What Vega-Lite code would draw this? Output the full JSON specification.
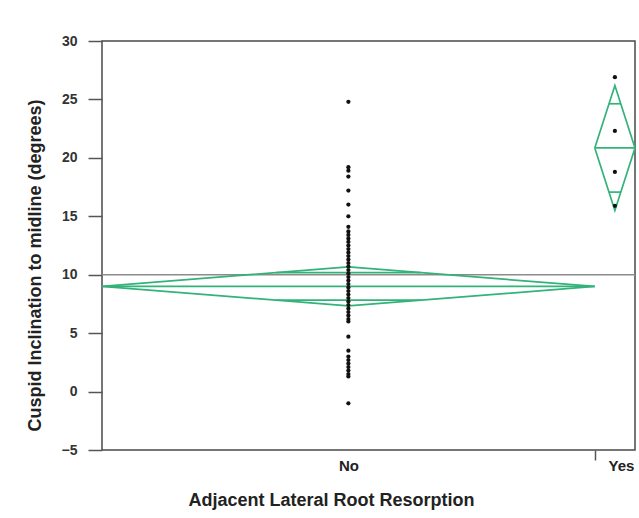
{
  "$schema": "https://vega.github.io/schema/vega-lite/v6.json",
  "width": 533,
  "height": 409,
  "autosize": {"type": "none"},
  "padding": {"left": 102, "top": 41, "right": 4, "bottom": 68},
  "background": "white",
  "config": {"view": {"stroke": "#4a4a4a", "strokeWidth": 1.5}, "font": "Liberation Sans"},
  "datasets": {
    "summary": [{"grand_mean": 10.0}],
    "diamonds": [
      {"group": "No", "segment": "No-diamond", "order": 1, "x": 0, "y": 9.0},
      {"group": "No", "segment": "No-diamond", "order": 2, "x": 24.5, "y": 10.67},
      {"group": "No", "segment": "No-diamond", "order": 3, "x": 49, "y": 9.0},
      {"group": "No", "segment": "No-diamond", "order": 4, "x": 24.5, "y": 7.33},
      {"group": "No", "segment": "No-diamond", "order": 5, "x": 0, "y": 9.0},
      {"group": "No", "segment": "No-mean", "order": 1, "x": 0, "y": 9.0},
      {"group": "No", "segment": "No-mean", "order": 2, "x": 49, "y": 9.0},
      {"group": "No", "segment": "No-overlap-hi", "order": 1, "x": 17.3, "y": 10.18},
      {"group": "No", "segment": "No-overlap-hi", "order": 2, "x": 31.7, "y": 10.18},
      {"group": "No", "segment": "No-overlap-lo", "order": 1, "x": 17.3, "y": 7.82},
      {"group": "No", "segment": "No-overlap-lo", "order": 2, "x": 31.7, "y": 7.82},
      {"group": "Yes", "segment": "Yes-diamond", "order": 1, "x": 49, "y": 20.85},
      {"group": "Yes", "segment": "Yes-diamond", "order": 2, "x": 51, "y": 26.2},
      {"group": "Yes", "segment": "Yes-diamond", "order": 3, "x": 53, "y": 20.85},
      {"group": "Yes", "segment": "Yes-diamond", "order": 4, "x": 51, "y": 15.5},
      {"group": "Yes", "segment": "Yes-diamond", "order": 5, "x": 49, "y": 20.85},
      {"group": "Yes", "segment": "Yes-mean", "order": 1, "x": 49, "y": 20.85},
      {"group": "Yes", "segment": "Yes-mean", "order": 2, "x": 53, "y": 20.85},
      {"group": "Yes", "segment": "Yes-overlap-hi", "order": 1, "x": 50.41, "y": 24.63},
      {"group": "Yes", "segment": "Yes-overlap-hi", "order": 2, "x": 51.59, "y": 24.63},
      {"group": "Yes", "segment": "Yes-overlap-lo", "order": 1, "x": 50.41, "y": 17.07},
      {"group": "Yes", "segment": "Yes-overlap-lo", "order": 2, "x": 51.59, "y": 17.07}
    ],
    "points": [
      {"group": "No", "x": 24.5, "value": 24.8},
      {"group": "No", "x": 24.5, "value": 19.2},
      {"group": "No", "x": 24.5, "value": 18.9},
      {"group": "No", "x": 24.5, "value": 18.4},
      {"group": "No", "x": 24.5, "value": 17.2},
      {"group": "No", "x": 24.5, "value": 16.0},
      {"group": "No", "x": 24.5, "value": 15.0},
      {"group": "No", "x": 24.5, "value": 14.1},
      {"group": "No", "x": 24.5, "value": 13.7},
      {"group": "No", "x": 24.5, "value": 13.4},
      {"group": "No", "x": 24.5, "value": 13.1},
      {"group": "No", "x": 24.5, "value": 12.8},
      {"group": "No", "x": 24.5, "value": 12.5},
      {"group": "No", "x": 24.5, "value": 12.2},
      {"group": "No", "x": 24.5, "value": 11.9},
      {"group": "No", "x": 24.5, "value": 11.6},
      {"group": "No", "x": 24.5, "value": 11.3},
      {"group": "No", "x": 24.5, "value": 11.0},
      {"group": "No", "x": 24.5, "value": 10.7},
      {"group": "No", "x": 24.5, "value": 10.4},
      {"group": "No", "x": 24.5, "value": 10.1},
      {"group": "No", "x": 24.5, "value": 9.8},
      {"group": "No", "x": 24.5, "value": 9.5},
      {"group": "No", "x": 24.5, "value": 9.2},
      {"group": "No", "x": 24.5, "value": 8.9},
      {"group": "No", "x": 24.5, "value": 8.6},
      {"group": "No", "x": 24.5, "value": 8.3},
      {"group": "No", "x": 24.5, "value": 8.0},
      {"group": "No", "x": 24.5, "value": 7.7},
      {"group": "No", "x": 24.5, "value": 7.4},
      {"group": "No", "x": 24.5, "value": 7.1},
      {"group": "No", "x": 24.5, "value": 6.8},
      {"group": "No", "x": 24.5, "value": 6.5},
      {"group": "No", "x": 24.5, "value": 6.2},
      {"group": "No", "x": 24.5, "value": 6.0},
      {"group": "No", "x": 24.5, "value": 4.7},
      {"group": "No", "x": 24.5, "value": 3.5},
      {"group": "No", "x": 24.5, "value": 3.0},
      {"group": "No", "x": 24.5, "value": 2.7},
      {"group": "No", "x": 24.5, "value": 2.4},
      {"group": "No", "x": 24.5, "value": 2.1},
      {"group": "No", "x": 24.5, "value": 1.8},
      {"group": "No", "x": 24.5, "value": 1.5},
      {"group": "No", "x": 24.5, "value": 1.3},
      {"group": "No", "x": 24.5, "value": -1.0},
      {"group": "Yes", "x": 51, "value": 26.9},
      {"group": "Yes", "x": 51, "value": 22.3},
      {"group": "Yes", "x": 51, "value": 18.8},
      {"group": "Yes", "x": 51, "value": 15.9}
    ]
  },
  "layer": [
    {
      "data": {"name": "summary"},
      "mark": {"type": "rule", "color": "#8c8c8c", "strokeWidth": 1.5},
      "encoding": {
        "y": {"field": "grand_mean", "type": "quantitative", "scale": {"domain": [-5, 30], "nice": false, "zero": false}}
      }
    },
    {
      "data": {"name": "diamonds"},
      "mark": {"type": "line", "color": "#33b27a", "strokeWidth": 1.7},
      "encoding": {
        "x": {
          "field": "x", "type": "quantitative",
          "scale": {"domain": [0, 53], "nice": false, "zero": false},
          "axis": {
            "title": "Adjacent Lateral Root Resorption",
            "values": [24.5, 49, 51.6],
            "labelExpr": "datum.value == 24.5 ? 'No' : (datum.value > 51 ? 'Yes' : '')",
            "domain": false, "grid": false,
            "tickSize": 10, "tickColor": "#555555", "tickWidth": 1.5,
            "tickOpacity": {"condition": {"test": "datum.value == 49", "value": 1}, "value": 0},
            "labelFlush": false, "labelOverlap": false,
            "labelFont": "Liberation Sans", "labelFontWeight": "bold", "labelFontSize": 15, "labelColor": "#222222", "labelPadding": -2,
            "titleFont": "Liberation Sans", "titleFontWeight": "bold", "titleFontSize": 18, "titleColor": "#222222",
            "titleX": 229, "titleY": 50, "titleBaseline": "middle"
          }
        },
        "y": {
          "field": "y", "type": "quantitative",
          "scale": {"domain": [-5, 30], "nice": false, "zero": false},
          "axis": {
            "title": "Cuspid Inclination to midline (degrees)",
            "values": [-5, 0, 5, 10, 15, 20, 25, 30],
            "domain": false, "grid": false,
            "tickSize": 14, "tickColor": "#555555", "tickWidth": 1.5,
            "labelFlush": false, "labelOverlap": false,
            "labelFont": "Liberation Sans", "labelFontWeight": "bold", "labelFontSize": 14, "labelColor": "#333333", "labelPadding": 11,
            "titleFont": "Liberation Sans", "titleFontWeight": "bold", "titleFontSize": 18, "titleColor": "#222222",
            "titleX": -67, "titleY": 224, "titleBaseline": "middle"
          }
        },
        "detail": {"field": "segment", "type": "nominal"},
        "order": {"field": "order", "type": "quantitative"}
      }
    },
    {
      "data": {"name": "points"},
      "mark": {"type": "circle", "color": "#111111", "opacity": 1, "size": 18},
      "encoding": {
        "x": {"field": "x", "type": "quantitative", "scale": {"domain": [0, 53], "nice": false, "zero": false}},
        "y": {"field": "value", "type": "quantitative", "scale": {"domain": [-5, 30], "nice": false, "zero": false}}
      }
    }
  ]
}
